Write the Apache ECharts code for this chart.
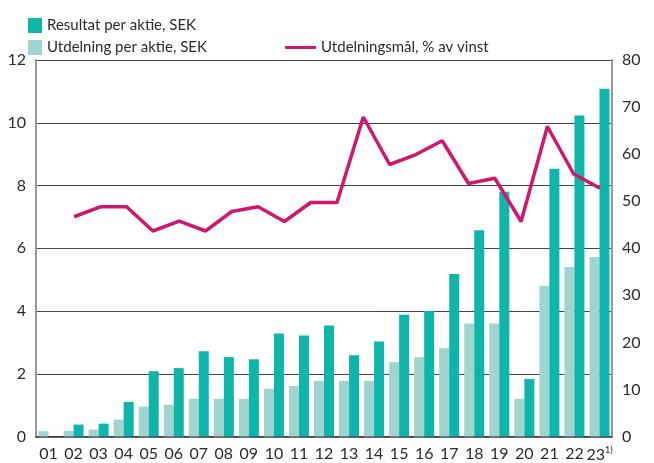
<!DOCTYPE html>
<html>
<head>
<meta charset="utf-8">
<script src="https://cdn.jsdelivr.net/npm/echarts@6/dist/echarts.min.js"></script>
<style>
  html, body { margin: 0; padding: 0; background: #fff; }
  #chart { width: 654px; height: 463px; }
</style>
</head>
<body>
<div id="chart"></div>
<script>
// år (x-axel)
const years = ['01', '02', '03', '04', '05', '06', '07', '08', '09', '10', '11', '12',
  '13', '14', '15', '16', '17', '18', '19', '20', '21', '22', '23']
// Resultat per aktie, SEK
const eps = [0, 0.38, 0.41, 1.1, 2.08, 2.18, 2.72, 2.53, 2.46, 3.28, 3.22, 3.54,
  2.59, 3.03, 3.88, 4.0, 5.18, 6.57, 7.8, 1.83, 8.53, 10.23, 11.08]
// Utdelning per aktie, SEK
const dps = [0.17, 0.18, 0.22, 0.54, 0.95, 1.01, 1.2, 1.2, 1.2, 1.52, 1.61, 1.77,
  1.77, 1.77, 2.37, 2.53, 2.81, 3.6, 3.6, 1.2, 4.8, 5.4, 5.72]
// Utdelningsmål, % av vinst (punkter som i förlagan)
const payoutPoints = ['p1', 'p2', 'p3', 'p4', 'p5', 'p6', 'p7', 'p8', 'p9', 'p10', 'p11',
  'p12', 'p13', 'p14', 'p15', 'p16', 'p17', 'p18', 'p19', 'p20', 'p21']
const payout = [47, 49.1, 49.1, 44, 46.1, 44, 48.1, 49.1, 46, 50, 50,
  68, 58, 60.1, 63, 54, 55.1, 46, 66, 56, 53]

const leftTicks = { min: 0, max: 12, interval: 2 }
const rightTicks = { min: 0, max: 80, interval: 10 }

const textColor = '#2b2b2b'
const font = 'Lato, "Noto Sans", sans-serif'

const chart = echarts.init(document.getElementById('chart'))

chart.setOption({
  animation: false,
  textStyle: { fontFamily: font },
  legend: [
    {
      data: ['Resultat per aktie, SEK'],
      left: 23, top: 13,
      icon: 'rect', itemWidth: 14, itemHeight: 15, itemGap: 0,
      textStyle: { color: textColor, fontSize: 15, fontFamily: font },
      selectedMode: false
    },
    {
      data: ['Utdelning per aktie, SEK'],
      left: 23, top: 35,
      icon: 'rect', itemWidth: 14, itemHeight: 15, itemGap: 0,
      textStyle: { color: textColor, fontSize: 15, fontFamily: font },
      selectedMode: false
    },
    {
      data: ['Utdelningsmål, % av vinst'],
      left: 280, top: 35,
      icon: 'rect', itemWidth: 31, itemHeight: 3,
      textStyle: { color: textColor, fontSize: 15, fontFamily: font },
      selectedMode: false
    }
  ],
  grid: [
    { left: 36, right: 42, top: 60, bottom: 23 },
    // linjen ligger i en egen yta, så som i förlagan
    { left: 74, right: 54, top: 60, bottom: 23 }
  ],
  xAxis: [
    {
      type: 'category',
      gridIndex: 0,
      data: years,
      axisTick: { show: false },
      axisLine: { lineStyle: { color: '#333', width: 1.5 } },
      axisLabel: {
        color: textColor,
        fontSize: 16,
        margin: 9,
        interval: 0,
        formatter: (v) => v === '23' ? '{a|23}{s|1)}' : v,
        rich: {
          a: { fontSize: 16, color: textColor, fontFamily: font },
          s: { fontSize: 9, color: textColor, fontFamily: font, verticalAlign: 'top', padding: [0, 0, 10, 0] }
        }
      }
    },
    {
      type: 'category',
      gridIndex: 1,
      data: payoutPoints,
      boundaryGap: false,
      show: false
    }
  ],
  yAxis: [
    {
      type: 'value',
      gridIndex: 0,
      ...leftTicks,
      axisLine: { show: true, lineStyle: { color: '#999', width: 2 } },
      axisTick: { show: false },
      axisLabel: { color: textColor, fontSize: 16, margin: 10 },
      splitLine: { lineStyle: { color: '#444', width: 1 } }
    },
    {
      type: 'value',
      gridIndex: 0,
      position: 'right',
      ...rightTicks,
      axisLine: { show: true, lineStyle: { color: '#999', width: 2 } },
      axisTick: { show: false },
      axisLabel: { color: textColor, fontSize: 16, margin: 10 },
      splitLine: { show: false }
    },
    {
      type: 'value',
      gridIndex: 1,
      ...rightTicks,
      show: false,
      splitLine: { show: false }
    }
  ],
  series: [
    {
      name: 'Utdelning per aktie, SEK',
      type: 'bar',
      xAxisIndex: 0,
      yAxisIndex: 0,
      barWidth: 10,
      barGap: '0%',
      itemStyle: { color: '#9fd4cf' },
      data: dps
    },
    {
      name: 'Resultat per aktie, SEK',
      type: 'bar',
      xAxisIndex: 0,
      yAxisIndex: 0,
      barWidth: 10,
      barGap: '0%',
      itemStyle: { color: '#0db5aa' },
      data: eps
    },
    {
      name: 'Utdelningsmål, % av vinst',
      type: 'line',
      xAxisIndex: 1,
      yAxisIndex: 2,
      showSymbol: false,
      symbol: 'none',
      lineStyle: { color: '#d0186b', width: 3.5 },
      itemStyle: { color: '#d0186b' },
      z: 5,
      data: payout
    }
  ]
})
</script>
</body>
</html>
